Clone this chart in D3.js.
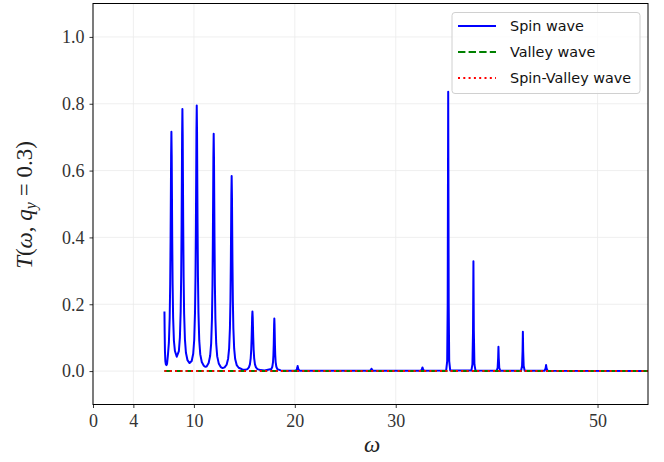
<!DOCTYPE html>
<html>
<head>
<meta charset="utf-8">
<script src="https://cdn.jsdelivr.net/npm/d3@7"></script>
<style>
  body { margin: 0; background: #fff; }
  svg { display: block; }
</style>
</head>
<body>
<script>
// spin wave transmission (omega, T)
var spinOmega = [
  7.08, 7.10, 7.13, 7.17, 7.22, 7.28, 7.34,
  7.42, 7.52, 7.60, 7.65, 7.69, 7.72, 7.74, 7.77, 7.80, 7.82, 7.85, 7.89, 7.94, 8.02, 8.12, 8.30,
  8.51, 8.61, 8.69, 8.74, 8.78, 8.81, 8.83, 8.86, 8.89, 8.91, 8.94, 8.98, 9.03, 9.11, 9.21, 9.36, 9.57,
  9.78, 9.93, 10.03, 10.11, 10.16, 10.20, 10.23, 10.25, 10.28, 10.31, 10.33, 10.36, 10.40, 10.45, 10.53, 10.63, 10.78, 10.98, 11.12,
  11.26, 11.46, 11.61, 11.71, 11.79, 11.84, 11.88, 11.91, 11.93, 11.96, 11.99, 12.01, 12.04, 12.08, 12.13, 12.21, 12.31, 12.46, 12.66, 12.85,
  13.04, 13.24, 13.39, 13.49, 13.57, 13.62, 13.66, 13.69, 13.71, 13.74, 13.77, 13.79, 13.82, 13.86, 13.91, 13.99, 14.09, 14.24, 14.44, 14.80,
  15.10, 15.30, 15.45, 15.55, 15.63, 15.68, 15.72, 15.75, 15.77, 15.80, 15.83, 15.85, 15.88, 15.92, 15.97, 16.05, 16.15, 16.30, 16.60, 17.00,
  17.67, 17.77, 17.84, 17.88, 17.91, 17.93, 17.95, 17.97, 17.99, 18.01, 18.03, 18.06, 18.10, 18.17, 18.27, 18.60, 19.50,
  20.05, 20.18, 20.24, 20.28, 20.32, 20.38, 20.50,
  27.45, 27.55, 27.60, 27.65, 27.75,
  32.50, 32.60, 32.65, 32.70, 32.80,
  35.00, 35.10, 35.15, 35.18, 35.20, 35.22, 35.25, 35.30, 35.40,
  37.50, 37.60, 37.66, 37.70, 37.74, 37.80, 37.90,
  40.00, 40.10, 40.15, 40.18, 40.21, 40.26, 40.36,
  42.42, 42.52, 42.57, 42.60, 42.63, 42.68, 42.78,
  44.75, 44.85, 44.90, 44.95, 45.05,
  55.5
];
var spinT = [
  0.178, 0.12, 0.06, 0.03, 0.02, 0.018, 0.022,
  0.046, 0.085, 0.16, 0.26, 0.40, 0.544, 0.644, 0.716, 0.644, 0.544, 0.40, 0.26, 0.16, 0.09, 0.06, 0.043,
  0.06, 0.10, 0.18, 0.29, 0.44, 0.596, 0.706, 0.784, 0.706, 0.596, 0.44, 0.282, 0.172, 0.095, 0.055, 0.033, 0.024,
  0.03, 0.052, 0.093, 0.176, 0.287, 0.445, 0.604, 0.716, 0.795, 0.716, 0.604, 0.445, 0.286, 0.175, 0.091, 0.05, 0.027, 0.016, 0.013,
  0.014, 0.024, 0.046, 0.083, 0.157, 0.256, 0.40, 0.54, 0.639, 0.71, 0.639, 0.54, 0.40, 0.256, 0.156, 0.082, 0.044, 0.023, 0.012, 0.009,
  0.011, 0.019, 0.037, 0.068, 0.129, 0.21, 0.327, 0.444, 0.526, 0.584, 0.526, 0.444, 0.327, 0.21, 0.128, 0.067, 0.036, 0.018, 0.01, 0.005,
  0.004, 0.006, 0.011, 0.02, 0.039, 0.064, 0.10, 0.135, 0.16, 0.178, 0.16, 0.135, 0.10, 0.064, 0.039, 0.02, 0.011, 0.006, 0.003, 0.002,
  0.006, 0.013, 0.027, 0.048, 0.078, 0.11, 0.141, 0.157, 0.141, 0.11, 0.078, 0.048, 0.027, 0.013, 0.006, 0.002, 0.001,
  0.001, 0.004, 0.009, 0.015, 0.009, 0.004, 0.001,
  0.001, 0.004, 0.007, 0.004, 0.001,
  0.001, 0.006, 0.011, 0.006, 0.001,
  0.002, 0.03, 0.20, 0.60, 0.836, 0.60, 0.20, 0.03, 0.002,
  0.002, 0.02, 0.12, 0.329, 0.12, 0.02, 0.002,
  0.001, 0.01, 0.04, 0.073, 0.04, 0.01, 0.001,
  0.001, 0.015, 0.06, 0.118, 0.06, 0.015, 0.001,
  0.001, 0.008, 0.018, 0.008, 0.001,
  0.0
];
// valley and spin-valley waves stay at zero
var flatOmega = [7.08, 55.5];
var valleyT = [0, 0];
var spinValleyT = [0, 0];

var xTicks = [0, 4, 10, 20, 30, 50];
var yTicks = [0.0, 0.2, 0.4, 0.6, 0.8, 1.0];
var legendLabels = ['Spin wave', 'Valley wave', 'Spin-Valley wave'];

var W = 664, H = 462;
var padL = 93, padR = 648, padT = 3.5, padB = 404.5;

var svg = d3.select('body').append('svg')
  .attr('width', W)
  .attr('height', H);

var x = d3.scaleLinear().domain([0, 55]).range([padL, padR]);
var y = d3.scaleLinear().domain([-0.1, 1.1]).range([padB, padT]);

var serif = '"Liberation Serif", "DejaVu Serif", serif';
var sans = '"DejaVu Sans", "Open Sans", sans-serif';

// grid
svg.append('g').selectAll('line.gx')
  .data(xTicks)
  .enter().append('line')
  .attr('class', 'gx')
  .attr('x1', function(d) { return x(d); })
  .attr('x2', function(d) { return x(d); })
  .attr('y1', padT).attr('y2', padB)
  .attr('stroke', '#ebebeb').attr('stroke-width', 0.8);
svg.append('g').selectAll('line.gy')
  .data(yTicks)
  .enter().append('line')
  .attr('class', 'gy')
  .attr('y1', function(d) { return y(d); })
  .attr('y2', function(d) { return y(d); })
  .attr('x1', padL).attr('x2', padR)
  .attr('stroke', '#ebebeb').attr('stroke-width', 0.8);

// curves
svg.append('clipPath').attr('id', 'clip')
  .append('rect')
  .attr('x', padL).attr('y', padT)
  .attr('width', padR - padL).attr('height', padB - padT);

var plot = svg.append('g').attr('clip-path', 'url(#clip)');

var line = d3.line()
  .x(function(d) { return x(d[0]); })
  .y(function(d) { return y(d[1]); });

plot.append('path')
  .datum(d3.zip(spinOmega, spinT))
  .attr('d', line)
  .attr('fill', 'none')
  .attr('stroke', '#0000ff')
  .attr('stroke-width', 2)
  .attr('stroke-linejoin', 'round');

plot.append('path')
  .datum(d3.zip(flatOmega, valleyT))
  .attr('d', line)
  .attr('fill', 'none')
  .attr('stroke', '#008000')
  .attr('stroke-width', 2)
  .attr('stroke-dasharray', '7.4,3.2');

plot.append('path')
  .datum(d3.zip(flatOmega, spinValleyT))
  .attr('d', line)
  .attr('fill', 'none')
  .attr('stroke', '#ff0000')
  .attr('stroke-width', 2)
  .attr('stroke-dasharray', '2,3.3');

// axes
var xAxis = d3.axisBottom(x).tickValues(xTicks).tickSize(3.5).tickPadding(6)
  .tickFormat(d3.format('d'));
var yAxis = d3.axisLeft(y).tickValues(yTicks).tickSize(3.5).tickPadding(5)
  .tickFormat(d3.format('.1f'));

var gx = svg.append('g').attr('transform', 'translate(0,' + padB + ')').call(xAxis);
var gy = svg.append('g').attr('transform', 'translate(' + padL + ',0)').call(yAxis);
[gx, gy].forEach(function(g) {
  g.select('.domain').remove();
  g.selectAll('line').attr('stroke', '#000').attr('stroke-width', 0.8);
  g.selectAll('text')
    .attr('font-family', serif)
    .attr('font-size', 18)
    .attr('fill', '#333');
});

// frame
svg.append('rect')
  .attr('x', padL).attr('y', padT)
  .attr('width', padR - padL).attr('height', padB - padT)
  .attr('fill', 'none')
  .attr('stroke', '#000')
  .attr('stroke-width', 1);

// axis labels
svg.append('text')
  .attr('x', 372)
  .attr('y', 452)
  .attr('text-anchor', 'middle')
  .attr('font-family', serif)
  .attr('font-style', 'italic')
  .attr('font-size', 23)
  .attr('fill', '#222')
  .text('ω');

var yl = svg.append('text')
  .attr('transform', 'translate(32,205) rotate(-90)')
  .attr('text-anchor', 'middle')
  .attr('font-family', serif)
  .attr('font-size', 23)
  .attr('fill', '#222');
yl.append('tspan').attr('font-style', 'italic').text('T');
yl.append('tspan').text('(');
yl.append('tspan').attr('font-style', 'italic').text('ω');
yl.append('tspan').text(', ');
yl.append('tspan').attr('font-style', 'italic').text('q');
yl.append('tspan').attr('font-style', 'italic').attr('font-size', 16).attr('dy', 4).text('y');
yl.append('tspan').attr('dy', -4).text(' = 0.3)');

// legend
var lg = svg.append('g');
lg.append('rect')
  .attr('x', 452).attr('y', 12.5)
  .attr('width', 188).attr('height', 81)
  .attr('rx', 3)
  .attr('fill', '#fff')
  .attr('fill-opacity', 0.8)
  .attr('stroke', '#d0d0d0')
  .attr('stroke-width', 1);

var legendStyle = [
  { color: '#0000ff', dash: null },
  { color: '#008000', dash: '7.4,3.2' },
  { color: '#ff0000', dash: '2,3.3' }
];
lg.selectAll('line.lg')
  .data(legendLabels)
  .enter().append('line')
  .attr('class', 'lg')
  .attr('x1', 458).attr('x2', 496)
  .attr('y1', function(d, i) { return 26 + i * 26; })
  .attr('y2', function(d, i) { return 26 + i * 26; })
  .attr('stroke', function(d, i) { return legendStyle[i].color; })
  .attr('stroke-width', 2)
  .attr('stroke-dasharray', function(d, i) { return legendStyle[i].dash; });

lg.selectAll('text.lg')
  .data(legendLabels)
  .enter().append('text')
  .attr('class', 'lg')
  .attr('x', 510)
  .attr('y', function(d, i) { return 26 + i * 26; })
  .attr('dy', '0.35em')
  .attr('font-family', sans)
  .attr('font-size', 14.4)
  .attr('fill', '#111')
  .text(function(d) { return d; });
</script>
</body>
</html>
